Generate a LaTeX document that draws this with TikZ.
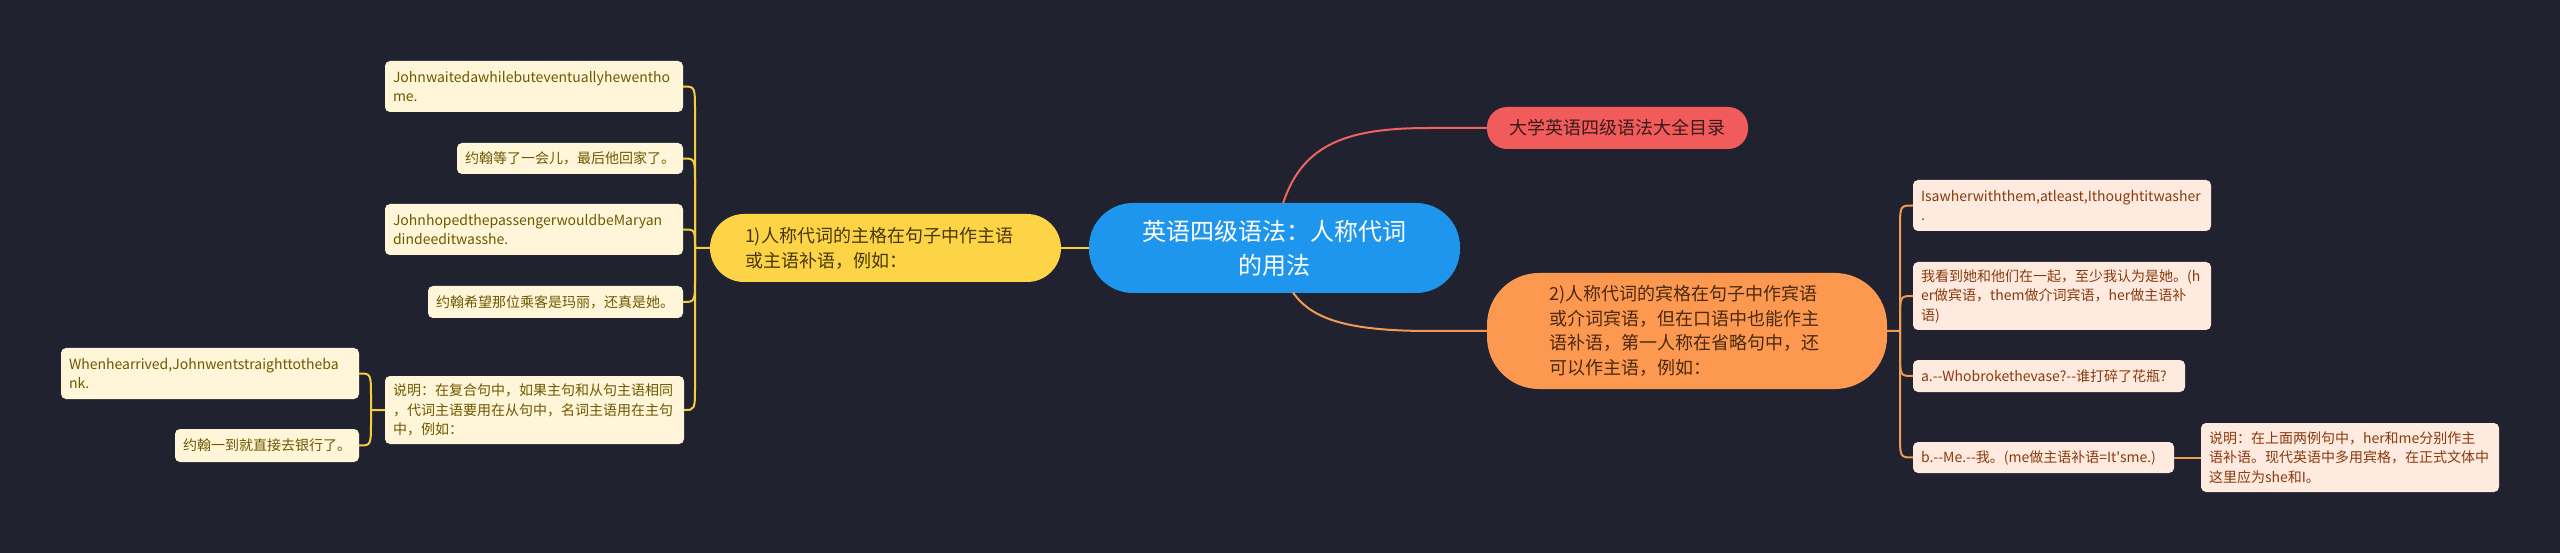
\documentclass[tikz,border=0pt]{standalone}
\usepackage{fontspec}
\setmainfont[Ligatures=TeXOff]{Noto Sans CJK SC}
\definecolor{bg}{HTML}{20232F}
\definecolor{cblue}{HTML}{1F96EE}
\definecolor{cred}{HTML}{F25B5B}
\definecolor{cyel}{HTML}{FDD446}
\definecolor{corg}{HTML}{FD9850}
\definecolor{lfill}{HTML}{FFF6D9}
\definecolor{rfill}{HTML}{FEEADF}
\definecolor{ltext}{HTML}{6E5800}
\definecolor{rtext}{HTML}{8A3A0E}
\definecolor{lline}{HTML}{F5CD3D}
\definecolor{rline}{HTML}{F19A55}
\definecolor{redline}{HTML}{EF6363}
\definecolor{ytext}{HTML}{47380A}
\definecolor{otext}{HTML}{4A2A10}
\definecolor{redtext}{HTML}{3A1A1A}
\begin{document}
\begin{tikzpicture}[x=1pt,y=-1pt,
  leafL/.style={fill=lfill,text=ltext,rounded corners=5pt,inner xsep=8pt,inner ysep=0pt,align=left,font=\fontsize{14}{19.5}\selectfont},
  leafR/.style={leafL,fill=rfill,text=rtext},
  lconn/.style={draw=lline,line width=2pt},
  rconn/.style={draw=rline,line width=2pt},
  redconn/.style={draw=redline,line width=2pt},
]
\useasboundingbox (0,0) rectangle (2560,553);
\fill[bg] (0,0) rectangle (2560,553);

% main nodes
\node[fill=cblue,text=white,rounded corners=44pt,minimum width=371pt,minimum height=90pt,inner sep=0pt,align=center,font=\fontsize{24}{34}\selectfont] (C) at (1274.5,248) {英语四级语法：人称代词\\的用法};
\node[fill=cred,text=redtext,rounded corners=20pt,minimum width=261pt,minimum height=42pt,inner sep=0pt,font=\fontsize{18}{24}\selectfont] (R) at (1617.5,128) {大学英语四级语法大全目录};
\node[fill=cyel,text=ytext,rounded corners=34pt,minimum height=68pt,text width=281pt,inner xsep=35pt,inner ysep=0pt,align=left,font=\fontsize{18}{25}\selectfont] (Y) at (885.5,248) {1)人称代词的主格在句子中作主语\\或主语补语，例如：};
\node[fill=corg,text=otext,rounded corners=52pt,minimum height=116pt,text width=276pt,inner xsep=62pt,inner ysep=0pt,align=left,font=\fontsize{18}{24.7}\selectfont] (O) at (1687,331) {2)人称代词的宾格在句子中作宾语\\或介词宾语，但在口语中也能作主\\语补语，第一人称在省略句中，还\\可以作主语，例如：};

% left leaves
\node[leafL,text width=282pt,minimum height=51pt] (L1) at (534,86.5) {Johnwaitedawhilebuteventuallyhewentho\\me.};
\node[leafL,text width=210pt,minimum height=31pt] (L2) at (570,158.5) {约翰等了一会儿，最后他回家了。};
\node[leafL,text width=282pt,minimum height=51pt] (L3) at (534,229.5) {JohnhopedthepassengerwouldbeMaryan\\dindeeditwasshe.};
\node[leafL,text width=239pt,minimum height=32pt] (L4) at (555.5,302) {约翰希望那位乘客是玛丽，还真是她。};
\node[leafL,text width=283pt,minimum height=68pt] (L5) at (534.5,410) {说明：在复合句中，如果主句和从句主语相同\\，代词主语要用在从句中，名词主语用在主句\\中，例如：};
\node[leafL,text width=282pt,minimum height=51pt] (L6) at (210,373.5) {Whenhearrived,Johnwentstraighttotheba\\nk.};
\node[leafL,text width=168pt,minimum height=33pt] (L7) at (267,445.5) {约翰一到就直接去银行了。};

% right leaves
\node[leafR,text width=282pt,minimum height=51pt] (R1) at (2062,205.5) {Isawherwiththem,atleast,Ithoughtitwasher\\.};
\node[leafR,text width=282pt,minimum height=68pt] (R2) at (2062,296) {我看到她和他们在一起，至少我认为是她。(h\\er做宾语，them做介词宾语，her做主语补\\语)};
\node[leafR,text width=256pt,minimum height=32pt] (R3) at (2049,376) {a.--Whobrokethevase?--谁打碎了花瓶?};
\node[leafR,text width=245pt,minimum height=31pt] (R4) at (2043.5,457.5) {b.--Me.--我。(me做主语补语=It'sme.)};
\node[leafR,text width=282pt,minimum height=69pt] (R5) at (2350,457.5) {说明：在上面两例句中，her和me分别作主\\语补语。现代英语中多用宾格，在正式文体中\\这里应为she和I。};

% connectors from centre
\draw[lconn] (C.west) -- (Y.east);
\coordinate (ct) at (1283,203.5);
\coordinate (cb) at (1293,292.5);
\draw[redconn] (ct) .. controls (1303,142) and (1350,128) .. (1430,128) -- (R.west);
\draw[rconn] (cb) .. controls (1312,320) and (1350,331) .. (1430,331) -- (O.west);

% left connectors
\draw[lconn] (Y.west) -- (695,248) -- (695,111.5) .. controls (695,86.5) .. (L1.east);
\draw[lconn] (695,248) -- (695,183.5) .. controls (695,158.5) .. (L2.east);
\draw[lconn] (695,248) .. controls (695,229.5) .. (L3.east);
\draw[lconn] (695,248) -- (695,277) .. controls (695,302) .. (L4.east);
\draw[lconn] (695,248) -- (695,385) .. controls (695,410) .. (L5.east);
\draw[lconn] (L5.west) -- (371,410) -- (371,398.5) .. controls (371,373.5) .. (L6.east);
\draw[lconn] (371,410) -- (371,420.5) .. controls (371,445.5) .. (L7.east);

% right connectors
\draw[rconn] (O.east) -- (1900,331) -- (1900,230.5) .. controls (1900,205.5) .. (R1.west);
\draw[rconn] (1900,331) -- (1900,321) .. controls (1900,296) .. (R2.west);
\draw[rconn] (1900,331) -- (1900,351) .. controls (1900,376) .. (R3.west);
\draw[rconn] (1900,331) -- (1900,432.5) .. controls (1900,457.5) .. (R4.west);
\draw[rconn] (R4.east) -- (R5.west);
\end{tikzpicture}
\end{document}
